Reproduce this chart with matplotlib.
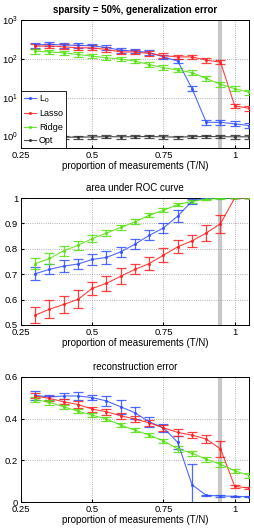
import numpy as np
import matplotlib
matplotlib.use("Agg")
import matplotlib.pyplot as plt
from matplotlib.lines import Line2D

x = np.arange(0.30, 1.0501, 0.05)

# generalization error (log scale)
gen_l0 = [224, 240, 224, 224, 215, 195, 166, 158, 145, 112, 87, 17, 2.3, 2.3, 2.1, 1.9]
gen_lasso = [210, 215, 203, 192, 192, 174, 150, 150, 137, 120, 112, 112, 92, 82, 6.1, 5.3]
gen_ridge = [157, 150, 142, 129, 117, 106, 98, 87, 71, 59, 51, 44, 31, 22, 17, 13.7]
gen_opt = [0.93, 0.94, 0.95, 0.95, 0.96, 0.98, 0.97, 0.98, 0.99, 0.97, 0.95, 0.98, 0.99, 0.98, 0.97, 0.97]

# area under ROC
auc_l0 = [0.702, 0.719, 0.732, 0.740, 0.758, 0.766, 0.788, 0.818, 0.853, 0.882, 0.929, 0.987, 1.0, 1.0, 1.0, 1.0]
auc_lasso = [0.539, 0.562, 0.581, 0.601, 0.644, 0.664, 0.692, 0.719, 0.742, 0.775, 0.808, 0.831, 0.862, 0.899, 1.0, 1.0]
auc_ridge = [0.742, 0.762, 0.792, 0.814, 0.840, 0.862, 0.884, 0.906, 0.932, 0.952, 0.974, 0.987, 0.995, 0.999, 1.0, 1.0]
auc_l0_err = [0.025, 0.02, 0.025, 0.02, 0.02, 0.025, 0.02, 0.02, 0.02, 0.02, 0.025, 0.01, 0.0, 0.0, 0.0, 0.0]
auc_lasso_err = [0.03, 0.035, 0.032, 0.035, 0.025, 0.03, 0.032, 0.02, 0.025, 0.027, 0.025, 0.025, 0.03, 0.035, 0.0, 0.0]
auc_ridge_err = [0.02, 0.02, 0.02, 0.018, 0.015, 0.012, 0.01, 0.01, 0.007, 0.007, 0.005, 0.005, 0.003, 0.001, 0.0, 0.0]

# reconstruction error
rec_l0 = [0.512, 0.504, 0.509, 0.509, 0.501, 0.485, 0.457, 0.428, 0.385, 0.356, 0.286, 0.083, 0.032, 0.029, 0.027, 0.025]
rec_lasso = [0.509, 0.497, 0.481, 0.468, 0.446, 0.433, 0.414, 0.398, 0.380, 0.356, 0.334, 0.321, 0.302, 0.255, 0.075, 0.067]
rec_ridge = [0.492, 0.478, 0.457, 0.436, 0.417, 0.398, 0.369, 0.345, 0.321, 0.294, 0.255, 0.234, 0.205, 0.181, 0.150, 0.127]
rec_l0_err = [0.02, 0.012, 0.015, 0.02, 0.012, 0.025, 0.035, 0.03, 0.025, 0.02, 0.03, 0.10, 0.003, 0.003, 0.003, 0.003]
rec_lasso_err = [0.012, 0.012, 0.012, 0.015, 0.012, 0.015, 0.015, 0.015, 0.015, 0.015, 0.015, 0.015, 0.018, 0.04, 0.008, 0.005]
rec_ridge_err = [0.01, 0.01, 0.01, 0.01, 0.008, 0.008, 0.008, 0.01, 0.01, 0.01, 0.015, 0.012, 0.012, 0.012, 0.01, 0.01]

C_L0 = "#3050ff"
C_LASSO = "#ff2020"
C_RIDGE = "#55e010"
C_OPT = "#333333"

plt.rcParams["font.family"] = ["Liberation Sans", "DejaVu Sans"]
plt.rcParams["font.size"] = 6.5
plt.rcParams["mathtext.fontset"] = "custom"
plt.rcParams["mathtext.rm"] = "Liberation Sans"

fig = plt.figure(figsize=(2.54, 5.28), dpi=100)
W, H = 254.0, 528.0


def add_ax(top, bottom, left=21, right=249):
    return fig.add_axes([left / W, 1 - bottom / H, (right - left) / W, (bottom - top) / H])


def style(ax, title, bold=False):
    ax.set_xlim(0.25, 1.05)
    ax.set_xticks([0.25, 0.5, 0.75, 1])
    ax.set_xticklabels(["0.25", "0.5", "0.75", "1"])
    ax.grid(True, linestyle=":", color="#999999", linewidth=0.6)
    ax.tick_params(direction="in", length=2.5, pad=2, labelsize=6.8)
    ax.set_xlabel("proportion of measurements (T/N)", fontsize=7, labelpad=1)
    ax.set_title(title, fontsize=7, fontweight="bold" if bold else "normal", pad=5)
    ax.axvline(0.95, color="#c8c8c8", linewidth=3, zorder=1)
    for s in ax.spines.values():
        s.set_linewidth(0.7)


def eb(ax, y, err, color):
    ax.errorbar(x, y, yerr=err, color=color, ecolor=color, elinewidth=0.9,
                capsize=3.5, capthick=0.9, marker=".", markersize=2.5,
                linewidth=0.8, zorder=3, alpha=0.85)


# panel 1
ax1 = add_ax(20, 148)
g_l0 = np.array(gen_l0)
g_la = np.array(gen_lasso)
g_ri = np.array(gen_ridge)
g_op = np.array(gen_opt)
eb(ax1, g_l0, [g_l0 * 0.13, g_l0 * 0.15], C_L0)
eb(ax1, g_la, [g_la * 0.13, g_la * 0.15], C_LASSO)
eb(ax1, g_ri, [g_ri * 0.13, g_ri * 0.15], C_RIDGE)
eb(ax1, g_op, [g_op * 0.1, g_op * 0.1], C_OPT)
ax1.set_yscale("log")
ax1.set_ylim(0.5, 1000)
ax1.set_yticks([1, 10, 100, 1000])
ax1.yaxis.set_minor_locator(matplotlib.ticker.NullLocator())
style(ax1, "sparsity = 50%, generalization error", bold=True)
handles = [Line2D([], [], color=c, marker=".", markersize=2.5, linewidth=0.8, alpha=0.85)
           for c in (C_L0, C_LASSO, C_RIDGE, C_OPT)]
leg = ax1.legend(handles, [r"L$_0$", "Lasso", "Ridge", "Opt"], loc="lower left",
                 borderaxespad=0, fontsize=6.5, handlelength=1.4,
                 labelspacing=0.5, borderpad=0.3, handletextpad=0.3, fancybox=False,
                 framealpha=1, edgecolor="black")
leg.get_frame().set_linewidth(0.6)

# panel 2
ax2 = add_ax(198, 325)
eb(ax2, auc_l0, auc_l0_err, C_L0)
eb(ax2, auc_lasso, auc_lasso_err, C_LASSO)
eb(ax2, auc_ridge, auc_ridge_err, C_RIDGE)
ax2.set_ylim(0.5, 1)
ax2.set_yticks([0.5, 0.6, 0.7, 0.8, 0.9, 1])
ax2.set_yticklabels(["0.5", "0.6", "0.7", "0.8", "0.9", "1"])
style(ax2, "area under ROC curve")

# panel 3
ax3 = add_ax(377, 502)
eb(ax3, rec_l0, rec_l0_err, C_L0)
eb(ax3, rec_lasso, rec_lasso_err, C_LASSO)
eb(ax3, rec_ridge, rec_ridge_err, C_RIDGE)
ax3.set_ylim(0, 0.6)
ax3.set_yticks([0, 0.2, 0.4, 0.6])
ax3.set_yticklabels(["0", "0.2", "0.4", "0.6"])
style(ax3, "reconstruction error")

fig.savefig("out.png", dpi=100)
